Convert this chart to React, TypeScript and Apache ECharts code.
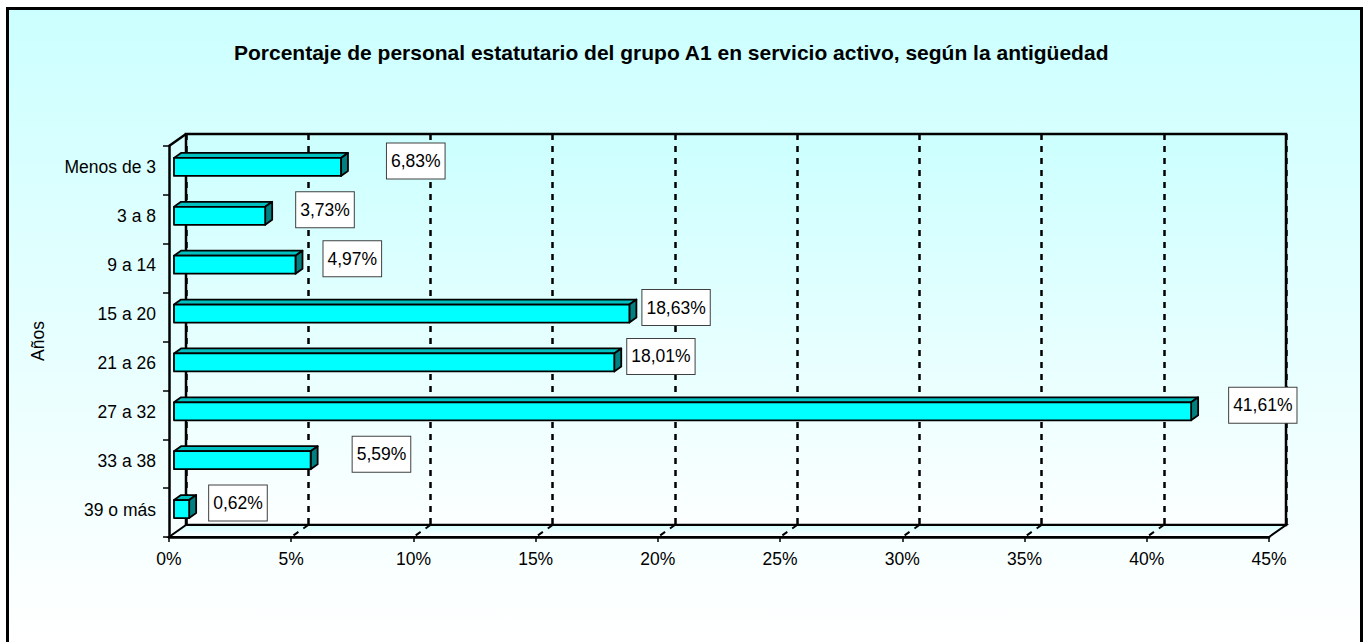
import React, { useEffect, useRef } from "react";
import * as echarts from "echarts";

const categories = ["Menos de 3", "3 a 8", "9 a 14", "15 a 20", "21 a 26", "27 a 32", "33 a 38", "39 o más"];
const values = [6.83, 3.73, 4.97, 18.63, 18.01, 41.61, 5.59, 0.62];
const xTicks = [0, 5, 10, 15, 20, 25, 30, 35, 40, 45];
const titleText = "Porcentaje de personal estatutario del grupo A1 en servicio activo, según la antigüedad";
const axisName = "Años";

// styling / layout
const FONT = "'Liberation Sans', Arial, sans-serif";
const FRONT = { left: 169, top: 146, width: 1100, height: 391 };
const DEPTH = { dx: 17, dy: -12 };
const BAR = { ox: 5, oy: -3.5, dx: 7, dy: -5, h: 18 };
const labelGap = [39, 24, 21, 6, 6, 31, 35, 13];

const fmt = (v: number) => v.toFixed(2).replace(".", ",") + "%";

export default function App() {
  const ref = useRef<HTMLDivElement>(null);
  useEffect(() => {
    document.body.style.margin = "0";
    const chart = echarts.init(ref.current!, null, { renderer: "svg" });
    const wallGrad = new echarts.graphic.LinearGradient(0, 0, 0, 1, [
      { offset: 0, color: "#CCFFFF" },
      { offset: 1, color: "#FCFFFF" },
    ]);
    const floorGrad = new echarts.graphic.LinearGradient(0, 0, 0, 1, [
      { offset: 0, color: "#D6FFFF" },
      { offset: 1, color: "#FFFFFF" },
    ]);
    const option: any = {
      animation: false,
      backgroundColor: "transparent",
      title: {
        text: titleText,
        left: 229,
        top: 37,
        textStyle: { fontFamily: FONT, fontSize: 21, fontWeight: "bold", color: "#000" },
      },
      graphic: [
        {
          type: "text",
          x: 38,
          y: 341,
          rotation: Math.PI / 2,
          style: {
            text: axisName,
            fontFamily: FONT,
            fontSize: 17.5,
            fill: "#000",
            textAlign: "center",
            textVerticalAlign: "middle",
          },
        },
      ],
      grid: [
        { ...FRONT, containLabel: false },
        {
          left: FRONT.left + DEPTH.dx,
          top: FRONT.top + DEPTH.dy,
          width: FRONT.width,
          height: FRONT.height,
          show: true,
          backgroundColor: wallGrad,
          borderColor: "#000",
          borderWidth: 2.5,
          z: -1,
        },
      ],
      xAxis: [
        {
          type: "value",
          gridIndex: 0,
          min: 0,
          max: 45,
          interval: 5,
          z: 5,
          axisLine: { show: true, lineStyle: { color: "#000", width: 2.5 } },
          axisTick: { show: true, length: 5, lineStyle: { color: "#000", width: 1.5 } },
          axisLabel: {
            formatter: "{value}%",
            margin: 13,
            fontFamily: FONT,
            fontSize: 17.5,
            color: "#000",
          },
          splitLine: { show: false },
        },
        {
          type: "value",
          gridIndex: 1,
          min: 0,
          max: 45,
          interval: 5,
          axisLine: { show: false },
          axisTick: { show: false },
          axisLabel: { show: false },
          splitLine: { show: true, lineStyle: { color: "#000", width: 2.5, type: [6, 6] } },
        },
      ],
      yAxis: [
        {
          type: "category",
          gridIndex: 0,
          data: categories,
          inverse: true,
          z: 5,
          axisLine: { show: true, lineStyle: { color: "#000", width: 2.5 } },
          axisTick: { show: true, length: 6, lineStyle: { color: "#000", width: 1.5 } },
          axisLabel: {
            margin: 13,
            formatter: (v: string) => "{c|" + v + "}",
            rich: {
              c: {
                fontFamily: FONT,
                fontSize: 17.5,
                color: "#000",
                padding: [0, 0, 6, 0],
              },
            },
          },
          splitLine: { show: false },
        },
        {
          type: "category",
          gridIndex: 1,
          data: categories,
          inverse: true,
          show: false,
        },
      ],
      series: [
        {
          type: "custom",
          name: "floor",
          xAxisIndex: 0,
          yAxisIndex: 0,
          z: 1,
          clip: false,
          silent: true,
          data: [[0, 0]],
          renderItem: (params: any, api: any) => {
            const cs = params.coordSys;
            const x0 = cs.x, x1 = cs.x + cs.width, yb = cs.y + cs.height, yt = cs.y;
            const { dx, dy } = DEPTH;
            const children: any[] = [
              {
                type: "polygon",
                shape: { points: [[x0, yb], [x1, yb], [x1 + dx, yb + dy], [x0 + dx, yb + dy]] },
                style: { fill: floorGrad, stroke: "#000", lineWidth: 2 },
              },
              {
                type: "line",
                shape: { x1: x0, y1: yt, x2: x0 + dx, y2: yt + dy },
                style: { stroke: "#000", lineWidth: 2.5 },
              },
            ];
            xTicks.forEach((t) => {
              if (t === 0 || t === 45) return;
              const px = api.coord([t, 0])[0];
              children.push({
                type: "line",
                shape: { x1: px + dx, y1: yb + dy, x2: px, y2: yb },
                style: { stroke: "#000", lineWidth: 2, lineDash: [6, 6] },
              });
            });
            return { type: "group", children };
          },
        },
        {
          type: "custom",
          name: "bars",
          xAxisIndex: 0,
          yAxisIndex: 0,
          z: 3,
          clip: false,
          data: values.map((v, i) => [v, i]),
          encode: { x: 0, y: 1 },
          renderItem: (params: any, api: any) => {
            const v = api.value(0);
            const c = api.value(1);
            const p0 = api.coord([0, c]);
            const p1 = api.coord([v, c]);
            const xa = p0[0] + BAR.ox;
            const xb = p1[0] + BAR.ox;
            const yc = p0[1] + BAR.oy;
            const yt = yc - BAR.h / 2;
            const yb = yc + BAR.h / 2;
            const { dx, dy } = BAR;
            const stroke = { stroke: "#000", lineWidth: 1.8, lineJoin: "round" };
            return {
              type: "group",
              children: [
                {
                  type: "polygon",
                  shape: { points: [[xa, yt], [xa + dx, yt + dy], [xb + dx, yt + dy], [xb, yt]] },
                  style: { fill: "#00C0C0", ...stroke },
                },
                {
                  type: "polygon",
                  shape: { points: [[xb, yt], [xb + dx, yt + dy], [xb + dx, yb + dy], [xb, yb]] },
                  style: { fill: "#008080", ...stroke },
                },
                {
                  type: "rect",
                  shape: { x: xa, y: yt, width: xb - xa, height: BAR.h },
                  style: { fill: "#00FFFF", ...stroke },
                },
                {
                  type: "text",
                  x: xb + dx + labelGap[params.dataIndex],
                  y: yc - 6,
                  style: {
                    text: fmt(v),
                    fontFamily: FONT,
                    fontSize: 17.5,
                    fill: "#000",
                    textAlign: "left",
                    textVerticalAlign: "middle",
                    backgroundColor: "#FFFFFF",
                    borderColor: "#404040",
                    borderWidth: 1,
                    padding: [9, 4, 8, 4],
                  },
                },
              ],
            };
          },
        },
      ],
    };
    chart.setOption(option);
    return () => chart.dispose();
  }, []);
  return (
    <div style={{ position: "fixed", left: 0, top: 0, width: 1367, height: 642, overflow: "hidden", background: "#fff" }}>
      <div
        style={{
          position: "absolute",
          left: 6,
          top: 7,
          width: 1351,
          height: 720,
          border: "3px solid #000",
          background: "linear-gradient(to bottom, #CCFFFF 0px, #FFFFFF 630px)",
        }}
      />
      <div ref={ref} style={{ position: "absolute", left: 0, top: 0, width: 1367, height: 642 }} />
    </div>
  );
}
